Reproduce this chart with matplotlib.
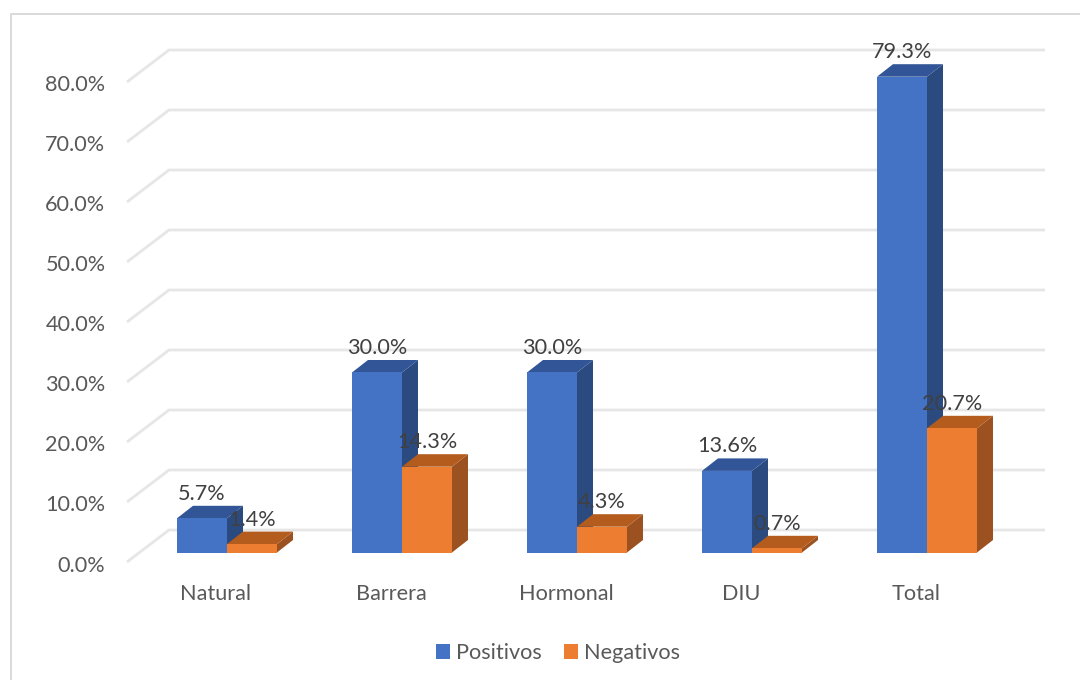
import matplotlib
matplotlib.use("Agg")
import matplotlib.pyplot as plt
from matplotlib.patches import Patch, Polygon, Rectangle
from matplotlib.transforms import ScaledTranslation

categories = ["Natural", "Barrera", "Hormonal", "DIU", "Total"]
positivos = [5.7, 30.0, 30.0, 13.6, 79.3]
negativos = [1.4, 14.3, 4.3, 0.7, 20.7]
y_ticks = [0, 10, 20, 30, 40, 50, 60, 70, 80]

BLUE = ("#4472C4", "#315597", "#2A4A80")
ORANGE = ("#ED7D31", "#B35C1E", "#9C5220")
GRID = "#E6E6E6"
FONT_SIZE = 15.6

plt.rcParams["font.family"] = ["Lato", "DejaVu Sans"]

W, H = 1080, 680
fig = plt.figure(figsize=(W / 100, H / 100), dpi=100, facecolor="white")

# Front plane of the 3D box, in pixels: 175 px per category, 6 px per percent.
LEFT, RIGHT, BOTTOM, TOP = 127, 1002, 562, 82
ax = fig.add_axes([LEFT / W, 1 - BOTTOM / H, (RIGHT - LEFT) / W, (BOTTOM - TOP) / H])
PX_X, PX_Y = 1 / 175, 1 / 6
ax.set_xlim((LEFT - 216) * PX_X, (RIGHT - 216) * PX_X)
ax.set_ylim(0, 80)
ax.patch.set_visible(False)
for spine in ax.spines.values():
    spine.set_visible(False)

ax.set_xticks(range(len(categories)), categories)
ax.set_yticks(y_ticks, [f"{v:.1f}%" for v in y_ticks])
ax.tick_params(axis="both", length=0, labelsize=FONT_SIZE, labelcolor="#595959")
ax.tick_params(axis="x", pad=16)
ax.tick_params(axis="y", pad=15.5)

# Nudge the y labels slightly below their gridline starts.
nudge = ScaledTranslation(0, -1.5 / 100, fig.dpi_scale_trans)
for label in ax.get_yticklabels():
    label.set_transform(label.get_transform() + nudge)

# Side wall diagonals and back wall gridlines.
wall_dx, wall_dy = 42 * PX_X, 32 * PX_Y
x0 = ax.get_xlim()[0]
x_end = x0 + (1045 - LEFT) * PX_X
for v in y_ticks:
    ax.plot([x0, x0 + wall_dx, x_end], [v, v + wall_dy, v + wall_dy],
            color=GRID, lw=2.0, solid_joinstyle="miter", solid_capstyle="butt",
            clip_on=False, zorder=1)

# Bars sit part-way into the box depth.
bar_w = 50 * PX_X
depth_x, depth_y = 16 * PX_X, 12.5 * PX_Y
base_dx, base_dy = 11 * PX_X, 9.5 * PX_Y


def draw_bar(x_left, value, colors):
    front, top, side = colors
    y0 = base_dy
    y1 = base_dy + value
    x1 = x_left + bar_w
    ax.add_patch(Polygon([(x1, y0), (x1 + depth_x, y0 + depth_y),
                          (x1 + depth_x, y1 + depth_y), (x1, y1)],
                         fc=side, ec="none", clip_on=False, zorder=3))
    ax.add_patch(Polygon([(x_left, y1), (x_left + depth_x, y1 + depth_y),
                          (x1 + depth_x, y1 + depth_y), (x1, y1)],
                         fc=top, ec="none", clip_on=False, zorder=3))
    ax.add_patch(Rectangle((x_left, y0), bar_w, value, fc=front, ec="none",
                           clip_on=False, zorder=3))


for i, (pos, neg) in enumerate(zip(positivos, negativos)):
    mid = i + base_dx
    draw_bar(mid - bar_w, pos, BLUE)
    draw_bar(mid, neg, ORANGE)

for i, (pos, neg) in enumerate(zip(positivos, negativos)):
    mid = i + base_dx
    for x, val in ((mid - bar_w / 2, pos), (mid + bar_w / 2, neg)):
        ax.text(x, base_dy + val + 24.5 * PX_Y, f"{val:.1f}%", ha="center", va="center",
                fontsize=FONT_SIZE, color="#404040", clip_on=False, zorder=5)

handles = [Patch(fc=BLUE[0], label="Positivos"), Patch(fc=ORANGE[0], label="Negativos")]
fig.legend(handles=handles, ncols=2, loc="center", bbox_to_anchor=(558 / W, 1 - 653 / H),
           frameon=False, fontsize=FONT_SIZE, labelcolor="#595959", handlelength=0.65,
           handleheight=0.65, handletextpad=0.28, columnspacing=1.05, borderpad=0)

# Chart frame: open to the right and bottom edges of the image.
fig.add_artist(plt.Line2D([11 / W, 11 / W, 1], [0, 1 - 14 / H, 1 - 14 / H],
                          color="#D9D9D9", lw=1.4, transform=fig.transFigure))

fig.savefig("out.png", dpi=100, facecolor="white")
